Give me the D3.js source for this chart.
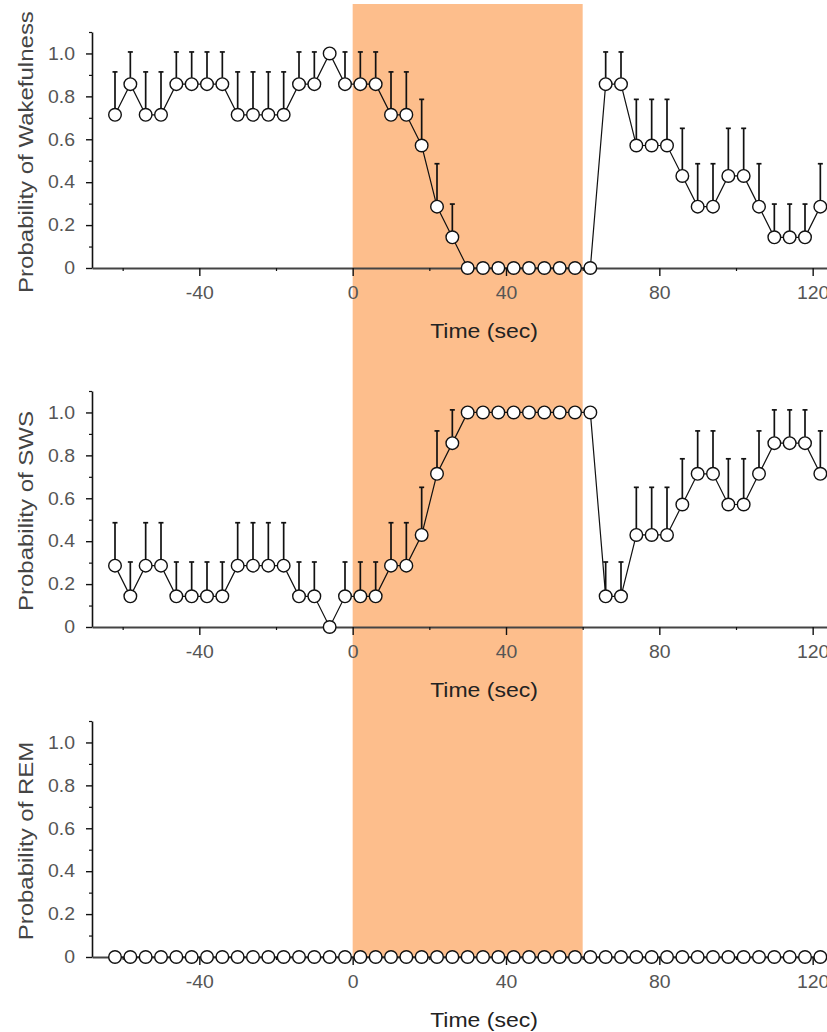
<!DOCTYPE html>
<html>
<head>
<meta charset="utf-8">
<script src="https://cdn.jsdelivr.net/npm/d3@7"></script>
<style>
  body { margin: 0; background: #fff; }
  svg { display: block; font-family: "Liberation Sans", Arial, sans-serif; }
</style>
</head>
<body>
<svg id="chart" width="827" height="1032"></svg>
<script>
// time bins (sec) and probabilities
var times = [-62,-58,-54,-50,-46,-42,-38,-34,-30,-26,-22,-18,-14,-10,-6,-2,2,6,10,14,18,22,26,
             30,34,38,42,46,50,54,58,62,66,70,74,78,82,86,90,94,98,102,106,110,114,118,122];

var wake = [0.714,0.857,0.714,0.714,0.857,0.857,0.857,0.857,0.714,0.714,0.714,0.714,0.857,0.857,1.0,0.857,0.857,0.857,0.714,0.714,0.571,0.286,0.143,
            0,0,0,0,0,0,0,0,0,0.857,0.857,0.571,0.571,0.571,0.429,0.286,0.286,0.429,0.429,0.286,0.143,0.143,0.143,0.286];
var wakeErr = [0.2,0.15,0.2,0.2,0.15,0.15,0.15,0.15,0.2,0.2,0.2,0.2,0.15,0.15,0,0.15,0.15,0.15,0.2,0.2,0.215,0.2,0.155,
               0,0,0,0,0,0,0,0,0,0.15,0.15,0.215,0.215,0.215,0.222,0.2,0.2,0.222,0.222,0.2,0.155,0.155,0.155,0.2];

var sws = [0.286,0.143,0.286,0.286,0.143,0.143,0.143,0.143,0.286,0.286,0.286,0.286,0.143,0.143,0,0.143,0.143,0.143,0.286,0.286,0.429,0.714,0.857,
           1,1,1,1,1,1,1,1,1,0.143,0.143,0.429,0.429,0.429,0.571,0.714,0.714,0.571,0.571,0.714,0.857,0.857,0.857,0.714];
var swsErr = [0.2,0.16,0.2,0.2,0.16,0.16,0.16,0.16,0.2,0.2,0.2,0.2,0.16,0.16,0,0.16,0.16,0.16,0.2,0.2,0.222,0.2,0.155,
              0,0,0,0,0,0,0,0,0,0.16,0.16,0.222,0.222,0.222,0.213,0.2,0.2,0.213,0.213,0.2,0.155,0.155,0.155,0.2];

var rem = [0,0,0,0,0,0,0,0,0,0,0,0,0,0,0,0,0,0,0,0,0,0,0,
           0,0,0,0,0,0,0,0,0,0,0,0,0,0,0,0,0,0,0,0,0,0,0,0];
var remErr = [0,0,0,0,0,0,0,0,0,0,0,0,0,0,0,0,0,0,0,0,0,0,0,
              0,0,0,0,0,0,0,0,0,0,0,0,0,0,0,0,0,0,0,0,0,0,0,0];

var stimWindow = [0, 60];
var xMajor = [-40, 0, 40, 80, 120];
var xMinor = [-60, -20, 20, 60, 100];
var yMajor = [0, 0.2, 0.4, 0.6, 0.8, 1.0];
var yMinor = [0.1, 0.3, 0.5, 0.7, 0.9, 1.1];
var yTitles = ["Probability of Wakefulness", "Probability of SWS", "Probability of REM"];
var xTitle = "Time (sec)";

var svg = d3.select("#chart");
var x = d3.scaleLinear().domain([-68, 124]).range([92, 828]);
var panels = [
  {top: 32, vals: wake, err: wakeErr},
  {top: 391, vals: sws, err: swsErr},
  {top: 721, vals: rem, err: remErr}
];
var ph = 236;

// stimulus shading, spans all three panels
svg.append("rect")
  .attr("x", x(stimWindow[0]))
  .attr("y", 4)
  .attr("width", x(stimWindow[1]) - x(stimWindow[0]))
  .attr("height", panels[2].top + ph - 4)
  .attr("fill", "#fdbe8c");

var stretch = 1.08;

panels.forEach(function(p, k){
  var y = d3.scaleLinear().domain([0, 1.1]).range([p.top + ph, p.top]);
  var base = p.top + ph;
  var g = svg.append("g");

  // y axis
  var ya = g.append("g").attr("transform", "translate(92,0)")
    .call(d3.axisLeft(y).tickValues(yMajor).tickSize(6).tickSizeOuter(0).tickFormat(function(d){ return d === 0 ? "0" : d3.format(".1f")(d); }));
  ya.select(".domain").attr("stroke", "#111").attr("stroke-width", 1.6);
  ya.selectAll(".tick line").attr("stroke", "#111").attr("stroke-width", 1.4);
  ya.selectAll(".tick text")
    .attr("x", -17 / stretch)
    .attr("transform", "scale(" + stretch + ",1)")
    .attr("fill", "#555").style("font-size", "18px");
  g.append("g").attr("transform", "translate(92,0)")
    .call(d3.axisLeft(y).tickValues(yMinor).tickSize(3).tickFormat(""))
    .call(function(s){ s.select(".domain").remove(); s.selectAll("line").attr("stroke", "#111").attr("stroke-width", 1.2); });

  // x axis
  var xa = g.append("g").attr("transform", "translate(0," + base + ")")
    .call(d3.axisBottom(x).tickValues(xMajor).tickSize(8).tickSizeOuter(0).tickPadding(10)
      .tickFormat(function(d){ return String(d); }));
  xa.select(".domain").attr("stroke", "#444").attr("stroke-width", 1.8);
  xa.selectAll(".tick line").attr("stroke", "#111").attr("stroke-width", 1.4);
  xa.selectAll(".tick text")
    .attr("transform", "scale(" + stretch + ",1)")
    .attr("fill", "#555").style("font-size", "18px");
  g.append("g").attr("transform", "translate(0," + base + ")")
    .call(d3.axisBottom(x).tickValues(xMinor).tickSize(3).tickFormat(""))
    .call(function(s){ s.select(".domain").remove(); s.selectAll("line").attr("stroke", "#111").attr("stroke-width", 1.2); });

  // titles
  g.append("text")
    .attr("transform", "translate(33," + (p.top + ph / 2 + 2) + ") rotate(-90) scale(1.2,1)")
    .attr("text-anchor", "middle")
    .attr("fill", "#444").style("font-size", "20px")
    .text(yTitles[k]);
  g.append("text")
    .attr("transform", "translate(484," + (base + 70) + ") scale(1.15,1)")
    .attr("text-anchor", "middle")
    .attr("fill", "#222").style("font-size", "20px")
    .text(xTitle);

  var pts = times.map(function(t, i){ return {t: t, v: p.vals[i], e: p.err[i]}; });

  // upper error bars
  var bars = g.append("g").attr("stroke", "#111").attr("stroke-width", 1.7);
  pts.filter(function(d){ return d.e > 0; }).forEach(function(d){
    bars.append("line").attr("x1", x(d.t)).attr("x2", x(d.t)).attr("y1", y(d.v)).attr("y2", y(d.v + d.e));
    bars.append("line").attr("x1", x(d.t) - 2.5).attr("x2", x(d.t) + 2.5).attr("y1", y(d.v + d.e)).attr("y2", y(d.v + d.e));
  });

  g.append("path").datum(pts)
    .attr("fill", "none").attr("stroke", "#111").attr("stroke-width", 1.2)
    .attr("d", d3.line().x(function(d){ return x(d.t); }).y(function(d){ return y(d.v); }));

  g.selectAll("circle.pt").data(pts).enter().append("circle")
    .attr("class", "pt")
    .attr("cx", function(d){ return x(d.t); })
    .attr("cy", function(d){ return y(d.v); })
    .attr("r", 6.3)
    .attr("fill", "#fff").attr("stroke", "#111").attr("stroke-width", 1.4);
});
</script>
</body>
</html>
